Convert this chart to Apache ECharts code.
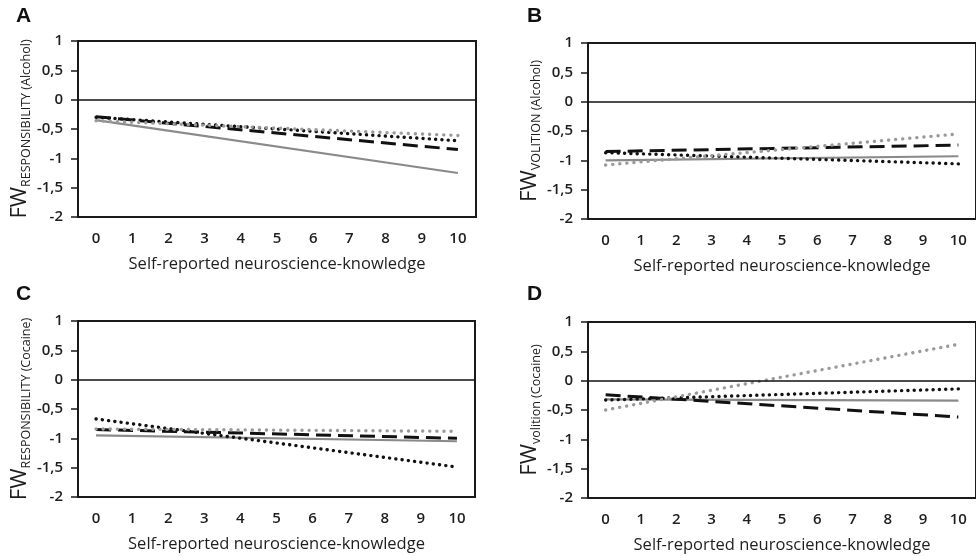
<!DOCTYPE html>
<html>
<head>
<meta charset="utf-8">
<script src="https://cdn.jsdelivr.net/npm/echarts@6/dist/echarts.min.js"></script>
<style>
html,body{margin:0;padding:0;background:#fff;}
#c{width:976px;height:556px;}
</style>
</head>
<body>
<div id="c"></div>
<script>
// ---- data ----
const categories = ['0','1','2','3','4','5','6','7','8','9','10'];
const xEnds = [0, 10];
const yTicks = [-2, -1.5, -1, -0.5, 0, 0.5, 1];

const panelLetters = ['A', 'B', 'C', 'D'];
const yTitleMain = ['FW', 'FW', 'FW', 'FW'];
const yTitleSub = ['RESPONSIBILITY (Alcohol)', 'VOLITION (Alcohol)', 'RESPONSIBILITY (Cocaine)', 'volition (Cocaine)'];
const xTitle = 'Self-reported neuroscience-knowledge';

// value at x=0 and x=10 for each regression line
const A_graySolid   = [-0.35, -1.25];
const A_blackDashed = [-0.29, -0.85];
const A_blackDotted = [-0.30, -0.70];
const A_grayDotted  = [-0.36, -0.61];

const B_graySolid   = [-1.00, -0.93];
const B_blackDashed = [-0.85, -0.74];
const B_blackDotted = [-0.87, -1.06];
const B_grayDotted  = [-1.08, -0.55];

const C_graySolid   = [-0.95, -1.05];
const C_blackDashed = [-0.85, -1.00];
const C_blackDotted = [-0.67, -1.49];
const C_grayDotted  = [-0.84, -0.88];

const D_graySolid   = [-0.32, -0.34];
const D_blackDashed = [-0.24, -0.62];
const D_blackDotted = [-0.33, -0.14];
const D_grayDotted  = [-0.50, 0.62];

const panelSeries = [
  [A_graySolid, A_blackDashed, A_blackDotted, A_grayDotted],
  [B_graySolid, B_blackDashed, B_blackDotted, B_grayDotted],
  [C_graySolid, C_blackDashed, C_blackDotted, C_grayDotted],
  [D_graySolid, D_blackDashed, D_blackDotted, D_grayDotted]
];

// ---- layout / style ----
const grids = [
  {left: 78, top: 41, width: 398, height: 176},
  {left: 588, top: 43, width: 399, height: 176},
  {left: 78, top: 321, width: 397, height: 176},
  {left: 588, top: 322, width: 399, height: 176}
];
const letterPos = [[16, 6], [527, 6], [16, 284], [527, 284]];

const FONT = '"Open Sans", sans-serif';
const TXT = '#1e1e1e';
const lineStyles = [
  {color: '#8a8a8a', width: 2.2, type: 'solid'},
  {color: '#111', width: 3, type: [15, 7]},
  {color: '#111', width: 3.4, type: [0.1, 6.2], cap: 'round'},
  {color: '#9a9a9a', width: 3.4, type: [0.1, 7], cap: 'round'}
];

const option = {
  animation: false,
  backgroundColor: '#fff',
  grid: grids.map(g => Object.assign({show: true, borderColor: '#1a1a1a', borderWidth: 2, backgroundColor: 'transparent'}, g)),
  xAxis: grids.map((g, i) => ({
    type: 'category', gridIndex: i, data: categories, boundaryGap: true,
    axisLine: {show: true, onZero: false, lineStyle: {color: '#1a1a1a', width: 2}},
    axisTick: {show: false},
    axisLabel: {fontFamily: FONT, fontSize: 15, fontWeight: 600, color: TXT, margin: 14},
    name: xTitle, nameLocation: 'middle', nameGap: 39,
    nameTextStyle: {fontFamily: FONT, fontSize: 16.5, color: TXT}
  })),
  yAxis: grids.map((g, i) => ({
    type: 'value', gridIndex: i, min: -2, max: 1, interval: 0.5,
    splitLine: {show: false},
    axisLine: {show: true, lineStyle: {color: '#1a1a1a', width: 2}},
    axisTick: {show: true, length: 7, lineStyle: {color: '#1a1a1a', width: 1.5}},
    axisLabel: {fontFamily: FONT, fontSize: 15, fontWeight: 600, color: TXT, margin: 15,
      formatter: v => String(v).replace('.', ',')},
    name: '{m|' + yTitleMain[i] + '}{s|' + yTitleSub[i] + '}',
    nameLocation: 'middle', nameRotate: 90, nameGap: 42,
    nameTextStyle: {
      rich: {
        m: {fontFamily: FONT, fontSize: 22, color: TXT, verticalAlign: 'bottom', padding: [0, 0, 2, 0]},
        s: {fontFamily: FONT, fontSize: 12.5, fontWeight: 500, color: TXT, verticalAlign: 'bottom'}
      }
    }
  })),
  graphic: panelLetters.map((t, i) => ({
    type: 'text', left: letterPos[i][0], top: letterPos[i][1],
    style: {text: t, font: 'bold 21px "Liberation Sans", Arial, sans-serif', fill: '#111'}
  })),
  series: []
};

panelSeries.forEach((lines, p) => {
  lines.forEach((vals, k) => {
    const s = {
      type: 'line', xAxisIndex: p, yAxisIndex: p,
      data: xEnds.map((x, j) => [x, vals[j]]),
      showSymbol: false, symbol: 'none', silent: true,
      lineStyle: lineStyles[k]
    };
    if (k === 0) {
      s.markLine = {
        silent: true, symbol: ['none', 'none'], label: {show: false},
        lineStyle: {color: '#111', width: 1.5, type: 'solid'},
        data: [{yAxis: 0}]
      };
    }
    option.series.push(s);
  });
});

const chart = echarts.init(document.getElementById('c'), null, {renderer: 'canvas'});
chart.setOption(option);
</script>
</body>
</html>
